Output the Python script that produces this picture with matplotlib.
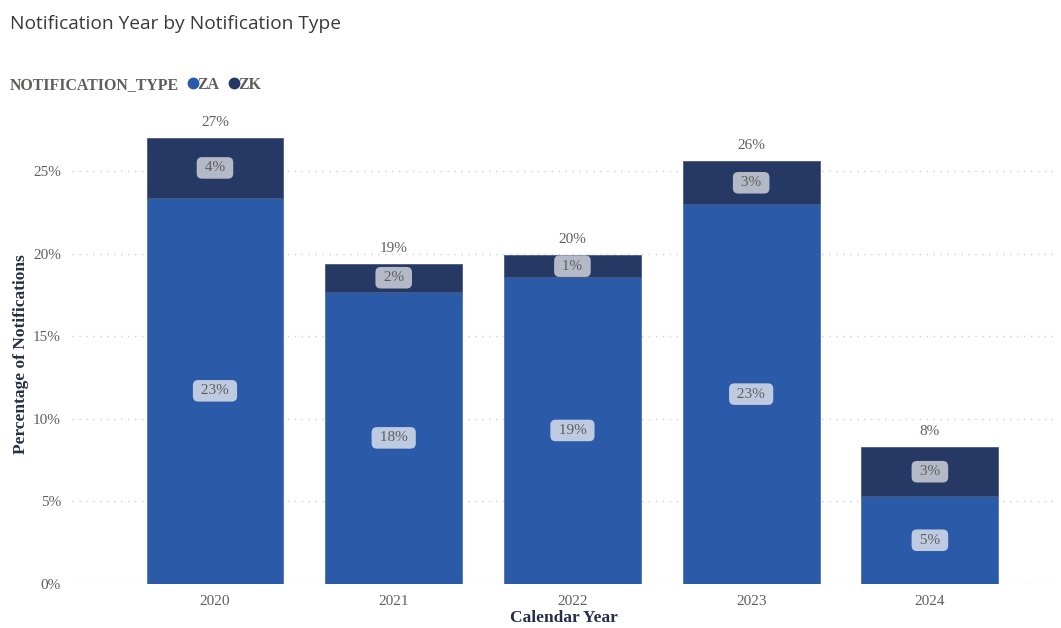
import matplotlib.pyplot as plt
from matplotlib.lines import Line2D

# Share of notifications per calendar year, split by notification type (in %)
years = ["2020", "2021", "2022", "2023", "2024"]
za_values = [23.4, 17.7, 18.6, 23.0, 5.3]
zk_values = [3.6, 1.7, 1.3, 2.6, 3.0]

za_color = "#2B5BA8"
zk_color = "#263964"
text_gray = "#605E5C"
label_navy = "#252F4A"

fig = plt.figure(figsize=(10.61, 6.28), dpi=100)
ax = fig.add_axes([72 / 1061, 44 / 628, 983 / 1061, 459 / 628])

x = list(range(len(years)))
totals = [a + b for a, b in zip(za_values, zk_values)]

ax.bar(x, za_values, width=0.766, color=za_color, edgecolor="#4A72B8", linewidth=0.6, zorder=2)
ax.bar(x, zk_values, width=0.766, bottom=za_values, color=zk_color, edgecolor="#4A5A80",
       linewidth=0.6, zorder=2)

# Segment labels in rounded boxes
box = dict(boxstyle="round,pad=0.28,rounding_size=0.35", facecolor="#D4DAE8", alpha=0.88,
           edgecolor="none")
for i in x:
    ax.text(i, za_values[i] / 2, f" {round(za_values[i])}% ", ha="center", va="center",
            fontsize=11, family="Liberation Serif", color=text_gray, bbox=box, zorder=3)
    ax.text(i, za_values[i] + zk_values[i] / 2, f" {round(zk_values[i])}% ", ha="center",
            va="center", fontsize=11, family="Liberation Serif", color=text_gray,
            bbox=dict(box, facecolor="#C9CCD6"), zorder=3)
    ax.text(i, totals[i] + 0.55, f"{round(totals[i])}%", ha="center", va="bottom",
            fontsize=11, family="Liberation Serif", color=text_gray)

ax.set_xlim(-0.8, 4.7)
ax.set_ylim(0, 27.8)
ax.set_yticks([0, 5, 10, 15, 20, 25])
ax.set_yticklabels([f"{v}%" for v in [0, 5, 10, 15, 20, 25]])
ax.set_xticks(x)
ax.set_xticklabels(years)
ax.tick_params(length=0, labelsize=11, labelcolor=text_gray, pad=8)
for lbl in ax.get_xticklabels() + ax.get_yticklabels():
    lbl.set_family("Liberation Serif")

ax.grid(axis="y", linestyle=(0, (1, 4)), color="#D0D0D0", linewidth=1, zorder=0)
ax.set_axisbelow(True)
for s in ax.spines.values():
    s.set_visible(False)

ax.set_ylabel("Percentage of Notifications", family="Liberation Serif", fontsize=12.5,
              fontweight="bold", color=label_navy, labelpad=3)
ax.set_xlabel("Calendar Year", family="Liberation Serif", fontsize=12.5,
              fontweight="bold", color=label_navy, labelpad=1)

fig.text(10 / 1061, 1 - 24 / 628, "Notification Year by Notification Type", fontsize=13.8,
         family="Open Sans", color="#3B3A39", va="center")

# Legend row
fig.text(10 / 1061, 1 - 85 / 628, "NOTIFICATION_TYPE", fontsize=11.4, family="Liberation Serif",
         fontweight="bold", color=text_gray, va="center")
handles = [Line2D([], [], marker="o", linestyle="none", markersize=7.5, color=za_color),
           Line2D([], [], marker="o", linestyle="none", markersize=7.5, color=zk_color)]
leg = fig.legend(handles, ["ZA", "ZK"], loc="center left", bbox_to_anchor=(183 / 1061, 1 - 85 / 628),
                 ncol=2, frameon=False, handletextpad=-0.3, columnspacing=0.3,
                 prop={"family": "Liberation Serif", "size": 11.4, "weight": "bold"},
                 handlelength=1.2, borderaxespad=0, borderpad=0)
for t in leg.get_texts():
    t.set_color(text_gray)

fig.savefig("out.png", dpi=100)
